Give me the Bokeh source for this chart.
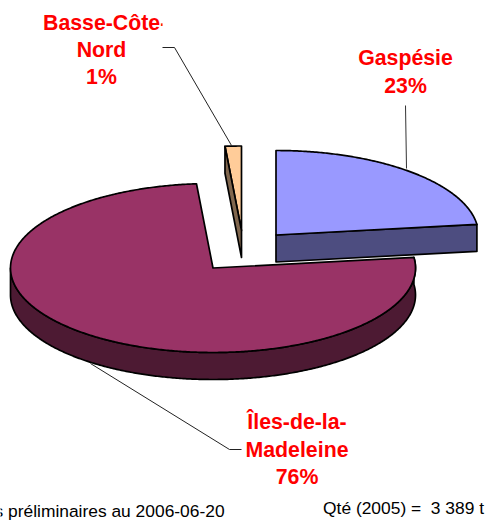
import math
from bokeh.embed import file_html
from bokeh.models import Range1d
from bokeh.plotting import figure
from bokeh.resources import INLINE
from bokeh.core.properties import value

categories = ["Gaspésie", "Îles-de-la-Madeleine", "Basse-Côte-Nord"]
shares = [23.0, 75.7, 1.3]
label_lines = [["Gaspésie"], ["Îles-de-la-", "Madeleine"], ["Nord"]]
tops = ["#9999FF", "#993366", "#FFCC99"]
sides = ["#4D4D80", "#4D1A33", "#80664D"]
basse_first_line = "Basse-Côte-"
note_left = "s préliminaires au 2006-06-20"
note_right = "Qté (2005) =\u00a0 3 389 t"

FONT = value("Liberation Sans")
p = figure(width=485, height=520, output_backend="svg", toolbar_location=None,
           x_range=Range1d(0, 485), y_range=Range1d(520, 0),
           min_border=0, outline_line_color=None, margin=0)
p.axis.visible = False
p.grid.visible = False

RX, RY, DEPTH = 202.5, 84.5, 27
centers = [(275.5, 234.5), (212.5, 267.5), (241.0, 230.0)]

def rim(cx, cy, a0, a1, dy=0):
    n = max(2, int(abs(a1 - a0) * 2))
    out = []
    for i in range(n + 1):
        a = math.radians(a0 + (a1 - a0) * i / n)
        out.append((cx + RX * math.sin(a), cy - RY * math.cos(a) + dy))
    return out

bounds = []
acc = 0.0
for s in shares:
    bounds.append((acc * 3.6, (acc + s) * 3.6))
    acc += s

def poly(pts, fill):
    p.patch([q[0] for q in pts], [q[1] for q in pts], fill_color=fill,
            line_color="black", line_width=1.7, line_join="round")

# Îles-de-la-Madeleine: wall, then top
a0, a1 = bounds[1]
cx, cy = centers[1]
poly(rim(cx, cy, a0, 270) + rim(cx, cy, 270, a0, DEPTH), sides[1])
poly([(cx, cy)] + rim(cx, cy, a0, a1), tops[1])

# Gaspésie: cut face, then top
a0, a1 = bounds[0]
cx, cy = centers[0]
e = rim(cx, cy, a1, a1)[0]
poly([(cx, cy), e, (e[0], e[1] + DEPTH), (cx, cy + DEPTH)], sides[0])
poly([(cx, cy)] + rim(cx, cy, a0, a1), tops[0])

# Basse-Côte-Nord: top, then cut face
a0, a1 = bounds[2]
cx, cy = centers[2]
poly([(cx, cy)] + rim(cx, cy, a0, a1), tops[2])
e = rim(cx, cy, a0, a0)[0]
poly([e, (e[0], e[1] + DEPTH), (cx, cy + DEPTH), (cx, cy)], sides[2])

# leader lines
p.line([405, 406], [105, 168], line_color="#333333", line_width=1)
p.line([162, 174, 231], [47, 47, 145], line_color="#222222", line_width=1)
p.line([90, 229, 241], [363, 449, 449], line_color="#222222", line_width=1)

# labels
red = dict(text_color="#FF0000", text_font=FONT, text_font_size="21.3px",
           text_font_style="bold", text_baseline="middle")
anchors = [(405, 57.5), (296.5, 421.5), (101, 49.2)]
for k, (lines, s, (x, y)) in enumerate(zip(label_lines, shares, anchors)):
    for i, t in enumerate(lines + [f"{round(s)}%"]):
        p.text([x], [y + i * 27.6], text=[t], text_align="center", **red)

p.text([42.5], [22], text=[basse_first_line], text_align="left", **red)
# the reference's label box trims the end of this line
p.quad(left=[162], right=[172], top=[12], bottom=[32], fill_color="white", line_color=None)

p.text([-6], [510], text=[note_left], text_font=FONT, text_font_size="17.4px",
       text_color="black", text_align="left", text_baseline="middle")
p.text([483.5], [507], text=[note_right], text_font=FONT, text_font_size="17.4px",
       text_color="black", text_align="right", text_baseline="middle")

open("out.html", "w").write(file_html(p, INLINE))
